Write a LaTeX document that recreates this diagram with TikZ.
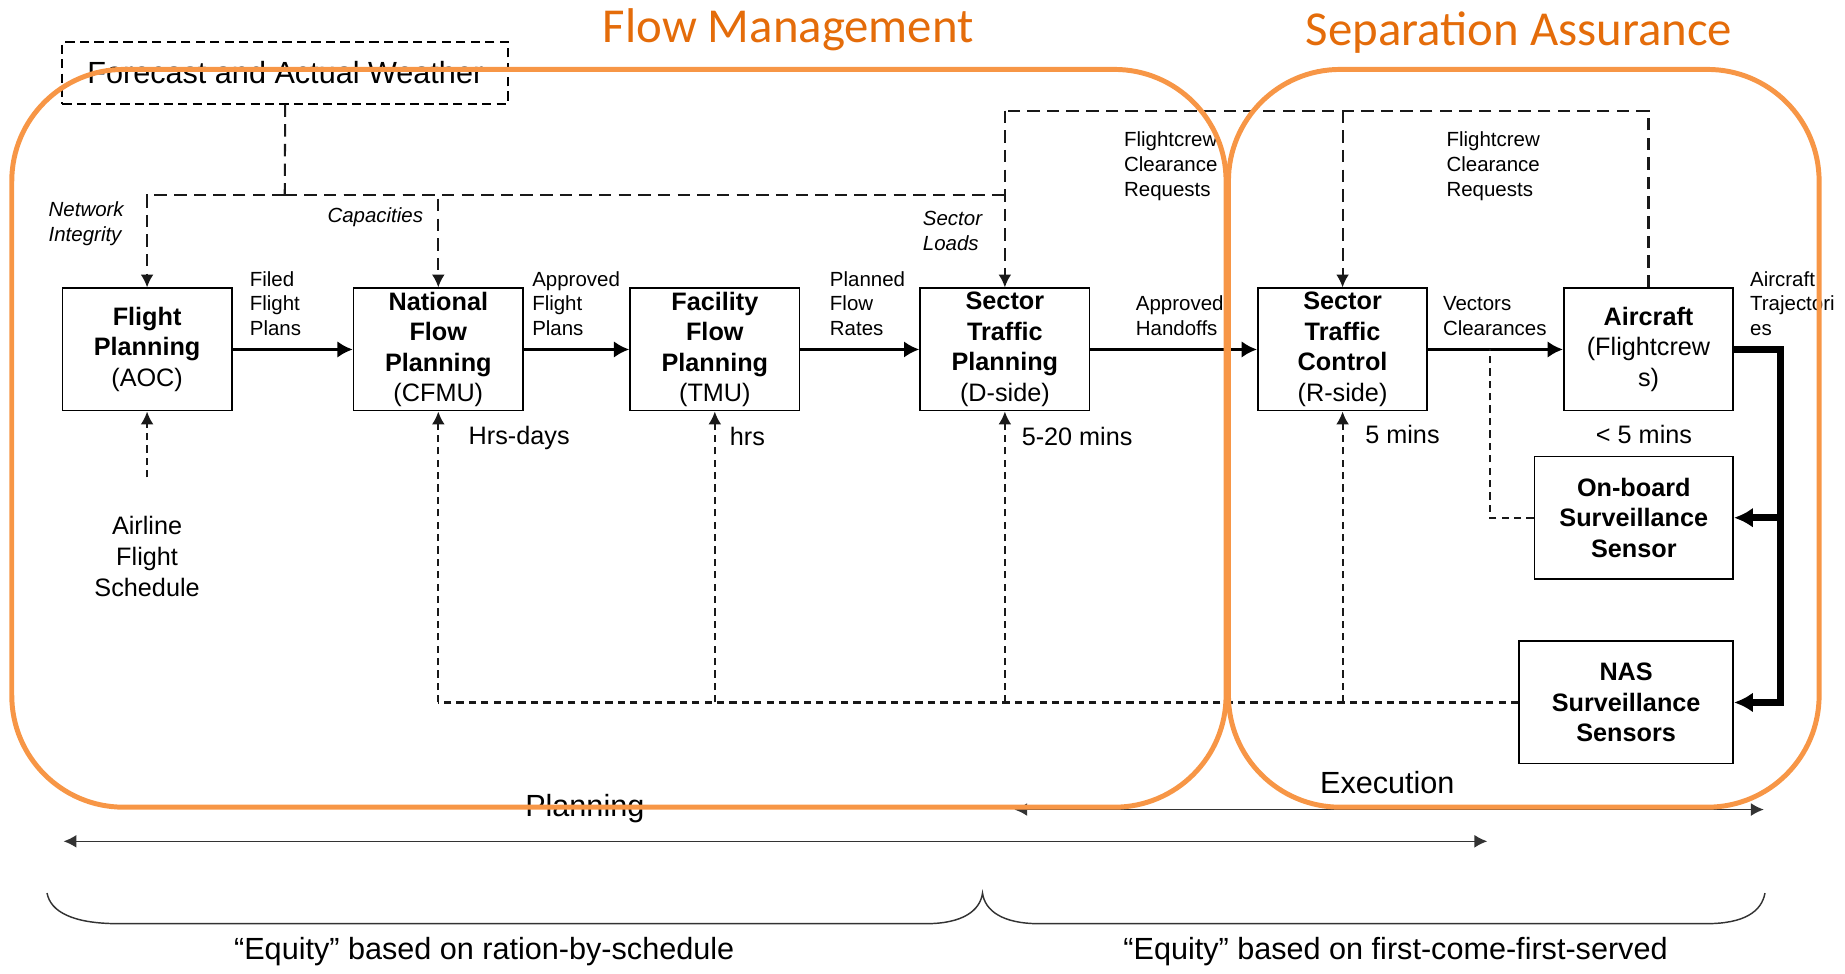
\documentclass[tikz,border=0pt]{standalone}
\usepackage{fontspec}
\setmainfont{Liberation Sans}
\newfontfamily\titlefont{Carlito}
\usetikzlibrary{arrows.meta,calc}
\definecolor{orangeline}{RGB}{247,150,70}
\definecolor{orangetext}{RGB}{228,108,10}
\tikzset{>={Latex[length=2.2mm,width=2.2mm]}}
\tikzset{
  block/.style = {draw, line width=0.8pt, align=center, inner sep=0pt,
    minimum height=20.8mm, font=\fontsize{12.2}{14.8}\selectfont},
  flow/.style = {-{Latex[length=2.6mm,width=2.8mm]}, line width=1.4pt},
  info/.style = {dash pattern=on 6pt off 3.5pt, line width=1pt, black!90},
  feedback/.style = {dash pattern=on 3.5pt off 2.5pt, line width=1pt, black!90},
  small/.style = {font=\fontsize{9.9}{12}\selectfont, align=left, anchor=west, inner sep=0pt},
  slanted/.style = {small, font=\fontsize{9.9}{12}\selectfont\itshape},
  timing/.style = {font=\fontsize{12.2}{14.8}\selectfont, anchor=west, inner sep=0pt},
  big/.style = {font=\fontsize{14.8}{17.6}\selectfont, inner sep=0pt},
  span/.style = {<->, line width=0.7pt, black!80},
  group/.style = {draw=orangeline, line width=2.4pt, rounded corners=19mm},
  title/.style = {font=\titlefont\fontsize{23.6}{28}\selectfont, text=orangetext, inner sep=0pt}
}

\begin{document}
\begin{tikzpicture}[x=0.2mm,y=-0.2mm]
  \useasboundingbox (0,0) rectangle (1568,827);
  % weather
  \node[draw, dash pattern=on 4.5pt off 2.5pt, line width=1pt, minimum width=75.8mm,
    minimum height=10.4mm, big] (wx) at (242.5,62) {Forecast and Actual Weather};
  % planning chain
  \node[block, minimum width=28.8mm] (fp) at (125,297) {\textbf{Flight}\\\textbf{Planning}\\(AOC)};
  \node[block, minimum width=28.8mm] (nfp) at (372.5,297) {\textbf{National}\\\textbf{Flow}\\\textbf{Planning}\\(CFMU)};
  \node[block, minimum width=28.8mm] (ffp) at (607.5,297) {\textbf{Facility}\\\textbf{Flow}\\\textbf{Planning}\\(TMU)};
  \node[block, minimum width=28.8mm] (stp) at (854,297) {\textbf{Sector}\\\textbf{Traffic}\\\textbf{Planning}\\(D-side)};
  \node[block, minimum width=28.8mm] (stc) at (1141,297) {\textbf{Sector}\\\textbf{Traffic}\\\textbf{Control}\\(R-side)};
  \node[block, minimum width=28.8mm] (ac) at (1401,297) {\textbf{Aircraft}\\(Flightcrew\\s)};
  \node[block, minimum width=33.8mm] (obs) at (1388.5,440) {\textbf{On-board}\\\textbf{Surveillance}\\\textbf{Sensor}};
  \node[block, minimum width=36.4mm] (nas) at (1382,597) {\textbf{NAS}\\\textbf{Surveillance}\\\textbf{Sensors}};
  \node[timing, align=center, anchor=center] (sched) at (125,473) {Airline\\Flight\\Schedule};

  % main flow
  \draw[flow] (fp) -- (nfp);
  \draw[flow] (nfp) -- (ffp);
  \draw[flow] (ffp) -- (stp);
  \draw[flow] (stp) -- (stc);
  \draw[flow] (stc) -- (ac);
  \coordinate (tr) at (1513,297);
  \draw[line width=3.2pt, -{Latex[length=3.2mm,width=3.4mm]}] (ac) -- (tr) -- (tr |- nas) -- (nas);
  \draw[line width=3.2pt, -{Latex[length=3.2mm,width=3.4mm]}] (tr |- obs) -- (obs);

  % information
  \coordinate (j1) at (242,166);
  \coordinate (top1) at (854,94);
  \draw[info] (wx) -- (j1);
  \draw[info,->] (j1) -| (fp);
  \draw[info,->] (j1) -| (nfp);
  \draw[info] (j1) -- (j1 -| stp);
  \draw[info] (ac) |- (top1);
  \draw[info,->] (top1) -- (stp);
  \draw[info,->] (stc |- top1) -- (stc);

  % feedback
  \draw[feedback] (nas) -- (nas -| nfp);
  \draw[feedback,->] (nas -| nfp) -- (nfp);
  \draw[feedback,->] (nas -| ffp) -- (ffp);
  \draw[feedback,->] (nas -| stp) -- (stp);
  \draw[feedback,->] (nas -| stc) -- (stc);
  \draw[feedback,->] ([yshift=6.6mm]sched.north) -- (fp);
  \coordinate (tap) at (1266,297);
  \draw[feedback] (obs) -| (tap);

  % labels
  \node[small] at (212,258) {Filed\\Flight\\Plans};
  \node[small] at (452,258) {Approved\\Flight\\Plans};
  \node[small] at (705,258) {Planned\\Flow\\Rates};
  \node[small] at (965,268.5) {Approved\\Handoffs};
  \node[small] at (1226,268.5) {Vectors\\Clearances};
  \node[small] at (1487,258) {Aircraft\\Trajectori\\es};
  \node[small] at (955,141) {Flightcrew\\Clearance\\Requests};
  \node[small] at (1229,141) {Flightcrew\\Clearance\\Requests};
  \node[slanted] at (41,190) {Network\\Integrity};
  \node[slanted] at (278,185) {Capacities};
  \node[slanted] at (784,196) {Sector\\Loads};
  \node[timing] at (398,372) {Hrs-days};
  \node[timing] at (620,371) {hrs};
  \node[timing] at (868,371) {5-20 mins};
  \node[timing] at (1160,369) {5 mins};
  \node[timing] at (1356,369) {< 5 mins};

  % horizons
  \coordinate (p1) at (54,715);
  \coordinate (p2) at (1264,715);
  \coordinate (e1) at (862,688);
  \coordinate (e2) at (1499,688);
  \draw[span] (p1) -- (p2);
  \draw[span] (e1) -- (e2);
  \node[big] (plan) at (497,687) {Planning};
  \node[big] (exec) at (1179,665) {Execution};
  \draw[line width=0.7pt, black!80] (40,759) .. controls (43,775) and (62,785) .. (101,785)
    -- (787,785) .. controls (818,785) and (833,774) .. (835,759)
    .. controls (837,774) and (852,785) .. (883,785)
    -- (1450,785) .. controls (1482,785) and (1497,775) .. (1500,759);
  \node[big] at (411.5,809) {“Equity” based on ration-by-schedule};
  \node[big] at (1186,809) {“Equity” based on first-come-first-served};

  % groups
  \draw[group] (10,59) rectangle (1042,686);
  \draw[group] (1044,59) rectangle (1546,686);
  \node[title] at (670,25) {Flow Management};
  \node[title] at (1291,28) {Separation Assurance};
\end{tikzpicture}
\end{document}
